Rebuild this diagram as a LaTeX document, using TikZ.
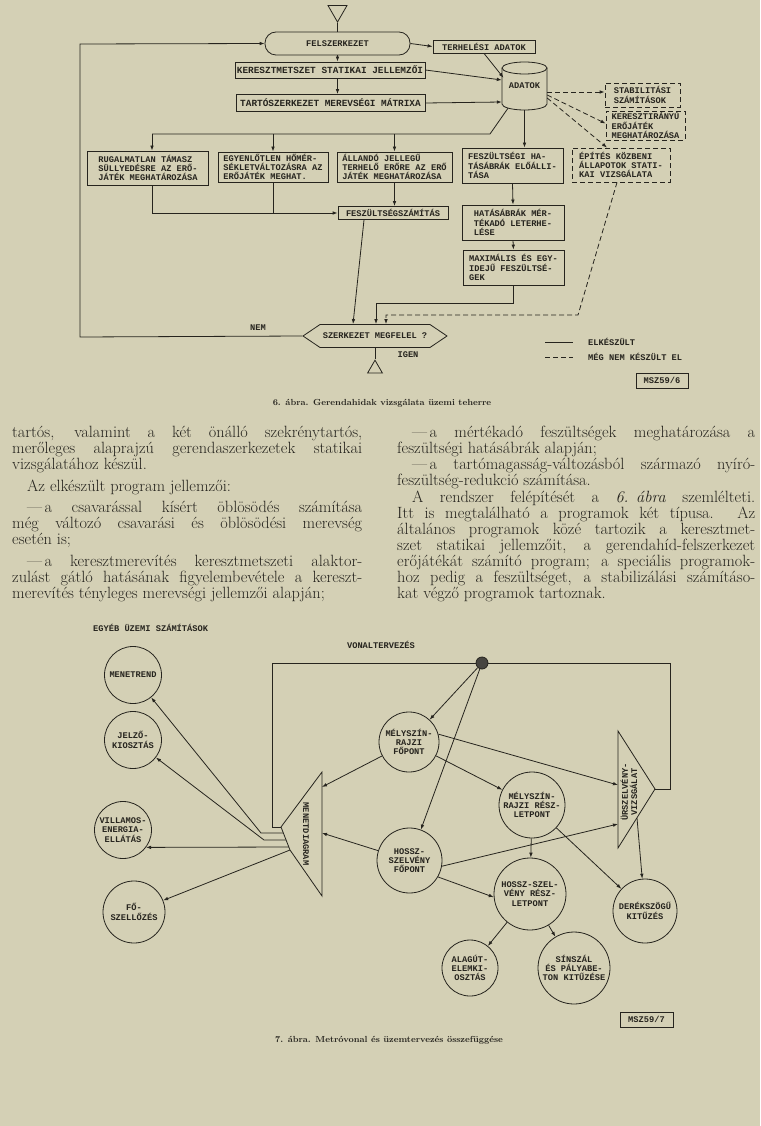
\documentclass[tikz,border=0pt]{standalone}
\usepackage{fontspec}
\setmonofont{Liberation Mono}
\usetikzlibrary{arrows.meta,positioning,shapes.geometric,shapes.symbols}
\definecolor{paper}{RGB}{212,208,181}
\definecolor{inkc}{RGB}{38,36,30}
\newcommand\boxfont{\ttfamily\bfseries\fontsize{8.7}{9.2}\selectfont}
\newcommand\wideboxfont{\ttfamily\bfseries\fontsize{9.4}{10}\selectfont}
\newcommand\capfont{\bfseries\fontsize{8.8}{10}\selectfont}
\newcommand\bodyfont{\fontsize{16.3}{16.1}\selectfont}
\newcommand\dasha{\hspace*{15pt}\mbox{---\kern2.5pt a}}
\tikzset{
wire/.style={draw=inkc,line width=.8pt},
box/.style={draw=inkc,line width=.8pt,inner sep=1pt,align=left,font=\boxfont,text=inkc},
dbox/.style={box,dash pattern=on 5pt off 3pt},
disc/.style={circle,draw=inkc,line width=.8pt,inner sep=0pt,align=center,font=\boxfont,text=inkc},
tri/.style={regular polygon,regular polygon sides=3,draw=inkc,line width=.8pt,inner sep=0pt},
tag/.style={font=\boxfont,text=inkc,inner sep=1pt,align=center},
arrow/.style={-{Latex[length=5pt,width=3.6pt]},draw=inkc,line width=.8pt},
dashedarrow/.style={arrow,dash pattern=on 5pt off 3pt},
column/.style={anchor=north west,inner sep=0pt,align=justify,font=\bodyfont,text=inkc}
}
\begin{document}
\begin{tikzpicture}[x=1pt,y=-1pt]
\useasboundingbox (0,0) rectangle (760,1126);
\fill[paper] (0,0) rectangle (760,1126);

% 6. abra
\node[tri,shape border rotate=180,minimum size=22pt] (start) at (337.5,11) {};
\node[box,rounded corners=11pt,minimum width=145pt,minimum height=23pt,align=center] (felsz) at (337.5,43.5) {FELSZERKEZET};
\node[box,minimum width=102pt,minimum height=13pt] (terh) at (484,46.5) {TERHELÉSI ADATOK};
\node[box,font=\wideboxfont,minimum width=190pt,minimum height=16pt] (keresz) at (330,70) {KERESZTMETSZET STATIKAI JELLEMZŐI};
\node[box,font=\wideboxfont,minimum width=189pt,minimum height=17pt] (tarto) at (330.5,103) {TARTÓSZERKEZET MEREVSÉGI MÁTRIXA};

\node[tag,minimum width=45pt,minimum height=48pt,inner sep=0pt] (adatok) at (524.5,86) {ADATOK};
\draw[wire] (502,68) -- (502,104) arc[start angle=180,end angle=360,x radius=22.5pt,y radius=6pt] -- (547,68);
\draw[wire] (524.5,68) ellipse[x radius=22.5pt,y radius=6pt];

\node[dbox,minimum width=75pt,minimum height=24pt] (stab) at (642.5,95) {STABILITÁSI\\SZÁMÍTÁSOK};
\node[dbox,minimum width=79pt,minimum height=29pt] (keri) at (645.5,125.5) {KERESZTIRÁNYÚ\\ERŐJÁTÉK\\MEGHATÁROZÁSA};

\node[box,minimum width=121pt,minimum height=34pt] (rug) at (148,168) {RUGALMATLAN TÁMASZ\\SÜLLYEDÉSRE AZ ERŐ-\\JÁTÉK MEGHATÁROZÁSA};
\node[box,minimum width=110pt,minimum height=30pt] (egy) at (273,167) {EGYENLŐTLEN HŐMÉR-\\SÉKLETVÁLTOZÁSRA AZ\\ERŐJÁTÉK MEGHAT.};
\node[box,minimum width=115pt,minimum height=30pt] (all) at (394.5,167) {ÁLLANDÓ JELLEGŰ\\TERHELŐ ERŐRE AZ ERŐ\\JÁTÉK MEGHATÁROZÁSA};
\node[box,minimum width=101pt,minimum height=35pt] (feszh) at (512.5,165.5) {FESZÜLTSÉGI HA-\\TÁSÁBRÁK ELŐÁLLI-\\TÁSA};
\node[dbox,minimum width=98pt,minimum height=34pt] (epit) at (621,165) {ÉPÍTÉS KÖZBENI\\ÁLLAPOTOK STATI-\\KAI VIZSGÁLATA};
\node[box,minimum width=110pt,minimum height=13pt] (fesz) at (393,213) {FESZÜLTSÉGSZÁMÍTÁS};
\node[box,minimum width=102pt,minimum height=35pt] (hat) at (513,222.5) {HATÁSÁBRÁK MÉR-\\TÉKADÓ LETERHE-\\LÉSE};
\node[box,minimum width=101pt,minimum height=35pt] (max) at (513.5,267.5) {MAXIMÁLIS ÉS EGY-\\IDEJŰ FESZÜLTSÉ-\\GEK};
\node[box,signal,signal to=west and east,signal pointer angle=68,minimum width=144pt,minimum height=23pt,align=center] (check) at (375,336) {SZERKEZET MEGFELEL ?};
\node[tri,minimum size=17pt] (stop) at (375,368.7) {};
\node[tag] (nem) at (258,328) {NEM};
\node[tag] (igen) at (408,355) {IGEN};

\coordinate (busR) at (490,134);
\coordinate (busL) at (152,134);

\draw[wire] (start.south) -- (felsz.north);
\draw[arrow] (check.west) -- (80,337) -- (80,44) -- (felsz.west);
\draw[arrow] (felsz.east) -- (terh.west);
\draw[arrow] (felsz.south) -- (felsz.south |- keresz.north);
\draw[arrow] (keresz.south -| felsz.south) -- (tarto.north -| felsz.south);
\draw[arrow] (keresz.east) -- ([yshift=6pt]adatok.west);
\draw[arrow] (tarto.east) -- ([yshift=-16pt]adatok.west);
\draw[arrow] (terh.south) -- ([xshift=-21pt,yshift=-16pt]adatok.north);
\draw[dashedarrow] ([yshift=-6pt]adatok.east) -- ([yshift=3pt]stab.west);
\draw[dashedarrow] ([yshift=-9pt]adatok.east) -- ([yshift=2pt]keri.west);
\draw[dashedarrow] ([yshift=-12pt]adatok.east) -- ([xshift=-14pt]epit.north);

\draw[wire] ([xshift=-16.5pt,yshift=2pt]adatok.south) -- (busR) -- (busL);
\draw[arrow] (busL) -- (busL |- rug.north);
\draw[arrow] (egy.north |- busL) -- (egy.north);
\draw[arrow] (all.north |- busL) -- (all.north);
\draw[arrow] (adatok.south) -- (adatok.south |- feszh.north);

\draw[arrow] (rug.south -| busL) |- (fesz.west);
\draw[wire] (egy.south) -- (egy.south |- fesz.west);
\draw[arrow] (all.south) -- (all.south |- fesz.north);
\draw[arrow] ([xshift=-29pt]fesz.south) -- ([xshift=-22pt]check.north);
\draw[arrow] (feszh.south) -- (hat.north);
\draw[arrow] (hat.south) -- (max.north);
\draw[arrow] (max.south) -- ++(0,18) -| ([xshift=1pt]check.north);
\draw[dashedarrow] ([xshift=-4pt]epit.south) -- (578,315) -| ([xshift=11pt]check.north);
\draw[wire] (check.south) -- (stop.north);

% jelmagyarazat
\coordinate (legA) at (573,342);
\coordinate (legB) at (573,357);
\draw[wire] (545,342) -- (legA);
\draw[wire,dash pattern=on 5pt off 3pt] (545,357) -- (legB);
\node[tag,anchor=west,right=14pt of legA] (done) {ELKÉSZÜLT};
\node[tag,anchor=west,right=14pt of legB] (todo) {MÉG NEM KÉSZÜLT EL};
\node[box,align=center,minimum width=52pt,minimum height=15pt] (msz6) at (662,380.5) {MSZ59/6};
\node[font=\capfont,text=inkc] (cap6) at (382,403) {6. ábra. Gerendahidak vizsgálata üzemi teherre};

% szoveg
\node[column,text width=350pt] (colL) at (12,426) {\tolerance=10000\hbadness=10000\setlength{\parskip}{5.4pt}%
tartós, valamint a két önálló szekrénytartós,\linebreak
merőleges alaprajzú gerendaszerkezetek statikai\linebreak
vizsgálatához készül.\par
\hspace*{15pt}Az elkészült program jellemzői:\par
\dasha{} csavarással kísért öblösödés számítása\linebreak
még változó csavarási és öblösödési merevség\linebreak
esetén is;\par
\dasha{} keresztmerevítés keresztmetszeti alaktor-\linebreak
zulást gátló hatásának figyelembevétele a kereszt-\linebreak
merevítés tényleges merevségi jellemzői alapján;};
\node[column,text width=358pt] (colR) at (397,426) {\tolerance=10000\hbadness=10000\setlength{\parskip}{0pt}%
\dasha{} mértékadó feszültségek meghatározása a\linebreak
feszültségi hatásábrák alapján;\par
\dasha{} tartómagasság-változásból származó nyíró-\linebreak
feszültség-redukció számítása.\par
\hspace*{15pt}A rendszer felépítését a \mbox{\textit{6. ábra}} szemlélteti.\linebreak
Itt is megtalálható a programok két típusa. Az\linebreak
általános programok közé tartozik a keresztmet-\linebreak
szet statikai jellemzőit, a gerendahíd-felszerkezet\linebreak
erőjátékát számító program; a speciális programok-\linebreak
hoz pedig a feszültséget, a stabilizálási számításo-\linebreak
kat végző programok tartoznak.};

% 7. abra
\node[tag,anchor=west] (egyeb) at (92,628) {EGYÉB ÜZEMI SZÁMÍTÁSOK};
\node[tag] (vonal) at (381,645) {VONALTERVEZÉS};

\node[disc,minimum size=57pt] (menet) at (133,675) {MENETREND};
\node[disc,minimum size=57pt] (jelzo) at (133,740) {JELZŐ-\\KIOSZTÁS};
\node[disc,minimum size=57pt] (villamos) at (123,830) {VILLAMOS-\\ENERGIA-\\ELLÁTÁS};
\node[disc,minimum size=62pt] (foszell) at (134,912) {FŐ-\\SZELLŐZÉS};

\coordinate (mdT) at (322,772);
\coordinate (mdA) at (281,827);
\coordinate (mdE) at (290,850);
\coordinate (mdU) at (322,896);
\draw[wire] (mdT) -- (mdA) -- (mdE) -- (mdU) -- cycle;
\node[tag,rotate=-90] (mdiag) at (306,834) {MENETDIAGRAM};
\coordinate (mdB) at (283.3,833);
\coordinate (mdC) at (286.1,840);
\coordinate (mdD) at (288.8,847);
\coordinate (mdF) at (322,787);
\coordinate (mdG) at (322,833);

\coordinate (urT) at (618,731);
\coordinate (urP) at (655,789);
\coordinate (urU) at (618,848);
\draw[wire] (urT) -- (urP) -- (urU) -- cycle;
\node[tag,rotate=90] (ursz) at (629,792) {ÜRSZELVÉNY-\\VIZSGÁLAT};
\coordinate (urA) at (618,785);
\coordinate (urB) at (618,824);
\coordinate (urC) at (637,818);

\node[circle,draw=inkc,fill=inkc!85,line width=.8pt,minimum size=12pt,inner sep=0pt] (dot) at (482,663) {};
\node[disc,minimum size=60pt] (mfo) at (409,742) {MÉLYSZÍN-\\RAJZI\\FŐPONT};
\node[disc,minimum size=66pt] (mreszl) at (532,805) {MÉLYSZÍN-\\RAJZI RÉSZ-\\LETPONT};
\node[disc,minimum size=65pt] (hfo) at (409.5,860.5) {HOSSZ-\\SZELVÉNY\\FŐPONT};
\node[disc,minimum size=72pt] (hreszl) at (530,894) {HOSSZ-SZEL-\\VÉNY RÉSZ-\\LETPONT};
\node[disc,minimum size=64pt] (derek) at (645,911) {DERÉKSZÖGŰ\\KITŰZÉS};
\node[disc,minimum size=56pt] (alag) at (470,968) {ALAGÚT-\\ELEMKI-\\OSZTÁS};
\node[disc,minimum size=72pt] (sinsz) at (574,968) {SÍNSZÁL\\ÉS PÁLYABE-\\TON KITŰZÉSE};

\draw[wire] (dot.west) -- (272,663) -- (272,827) -- (mdA);
\draw[wire] (dot.east) -- (670,663) -- (670,789) -- (urP);
\draw[arrow] (dot) -- (mfo);
\draw[arrow] (dot) -- (hfo);
\draw[arrow] (mfo.15) -- (urA);
\draw[arrow] (mfo) -- (mreszl);
\draw[arrow] (mfo) -- (mdF);
\draw[arrow] (hfo) -- (mdG);
\draw[arrow] (hfo.-10) -- (urB);
\draw[arrow] (hfo.-30) -- (hreszl.185);
\draw[arrow] (mreszl) -- (hreszl);
\draw[arrow] (mreszl) -- (derek);
\draw[arrow] (urC) -- (derek);
\draw[arrow] (hreszl) -- (alag);
\draw[arrow] (hreszl) -- (sinsz);
\draw[arrow] (mdB) -- (261,833) -- (menet);
\draw[arrow] (mdC) -- (264,840) -- (jelzo);
\draw[arrow] (mdD) -- (villamos.-37);
\draw[arrow] (mdE) -- (foszell);

\node[box,align=center,minimum width=53pt,minimum height=15pt] (msz7) at (646.5,1019.5) {MSZ59/7};
\node[font=\capfont,text=inkc] (cap7) at (389,1040) {7. ábra. Metróvonal és üzemtervezés összefüggése};
\end{tikzpicture}
\end{document}
